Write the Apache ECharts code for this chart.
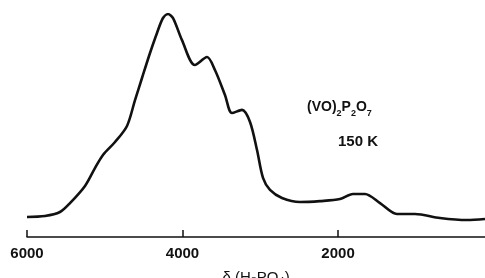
<!DOCTYPE html>
<html>
<head>
<meta charset="utf-8">
<script src="https://cdn.jsdelivr.net/npm/echarts@6/dist/echarts.min.js"></script>
<style>
  html, body { margin: 0; padding: 0; background: #fff; }
  #nmrChart { width: 485px; height: 278px; }
</style>
</head>
<body>
<div id="nmrChart"></div>
<script>
// chemical shift (ppm, vs H3PO4) and signal intensity
var shifts = [6000, 5769, 5576, 5447, 5254, 5126, 5023, 4868, 4714, 4611, 4521, 4418, 4328, 4251, 4187, 4122,
  4007, 3840, 3685, 3583, 3454, 3364, 3235, 3132, 3042, 2965, 2875, 2721, 2489, 2232, 1975, 1808, 1653,
  1460, 1242, 1010, 689, 342, 110]
var intensity = [9.0, 9.4, 11.2, 15.2, 22.9, 30.9, 36.8, 42.6, 49.8, 61.4, 71.3, 82.5, 91.5, 98.2, 100, 98.2,
  88.3, 77.1, 80.7, 74.9, 63.7, 55.6, 57.0, 51.6, 39.0, 26.5, 21.1, 17.5, 15.7, 16.1, 17.0, 19.3, 19.3,
  15.2, 10.3, 10.3, 8.5, 7.6, 8.1]
var tickValues = [6000, 4000, 2000]

var points = []
for (var i = 0; i < shifts.length; i++) {
  points.push([shifts[i], intensity[i]])
}

var myChart = echarts.init(document.getElementById('nmrChart'))
myChart.setOption({
  animation: false,
  grid: {
    left: 27,
    right: 0,
    top: 14,
    bottom: 41,
    containLabel: false,
    outerBoundsMode: 'none'
  },
  xAxis: {
    type: 'value',
    inverse: true,
    min: 110,
    max: 6000,
    name: 'δ (H₃PO₄)',
    nameLocation: 'middle',
    nameGap: 33,
    nameTextStyle: {
      fontFamily: 'Liberation Sans',
      fontSize: 15,
      color: '#111'
    },
    splitLine: { show: false },
    axisLine: {
      lineStyle: { color: '#111', width: 1.5 }
    },
    axisTick: {
      inside: true,
      length: 7,
      customValues: tickValues,
      lineStyle: { color: '#111', width: 1.5 }
    },
    axisLabel: {
      customValues: tickValues,
      formatter: function (v) { return String(v) },
      margin: 9,
      fontFamily: 'Liberation Sans',
      fontSize: 15,
      fontWeight: 'bold',
      color: '#111',
      showMinLabel: true,
      showMaxLabel: true
    }
  },
  yAxis: {
    type: 'value',
    min: 0,
    max: 100,
    show: false
  },
  series: [{
    type: 'line',
    data: points,
    symbol: 'none',
    smooth: 0.3,
    lineStyle: { color: '#111', width: 2.6 }
  }],
  graphic: [
    {
      type: 'text',
      left: 307,
      top: 100,
      style: {
        text: '{m|(VO)}{s|2}{m|P}{s|2}{m|O}{s|7}',
        fill: '#111',
        rich: {
          m: { fontSize: 14, lineHeight: 22, fontFamily: 'Liberation Sans', fontWeight: 'bold', fill: '#111', verticalAlign: 'middle' },
          s: { fontSize: 9, lineHeight: 9, fontFamily: 'Liberation Sans', fontWeight: 'bold', fill: '#111', verticalAlign: 'bottom' }
        }
      }
    },
    {
      type: 'text',
      left: 338,
      top: 134,
      style: {
        text: '150 K',
        fontFamily: 'Liberation Sans',
        fontSize: 15,
        fontWeight: 'bold',
        fill: '#111'
      }
    }
  ]
})
</script>
</body>
</html>
